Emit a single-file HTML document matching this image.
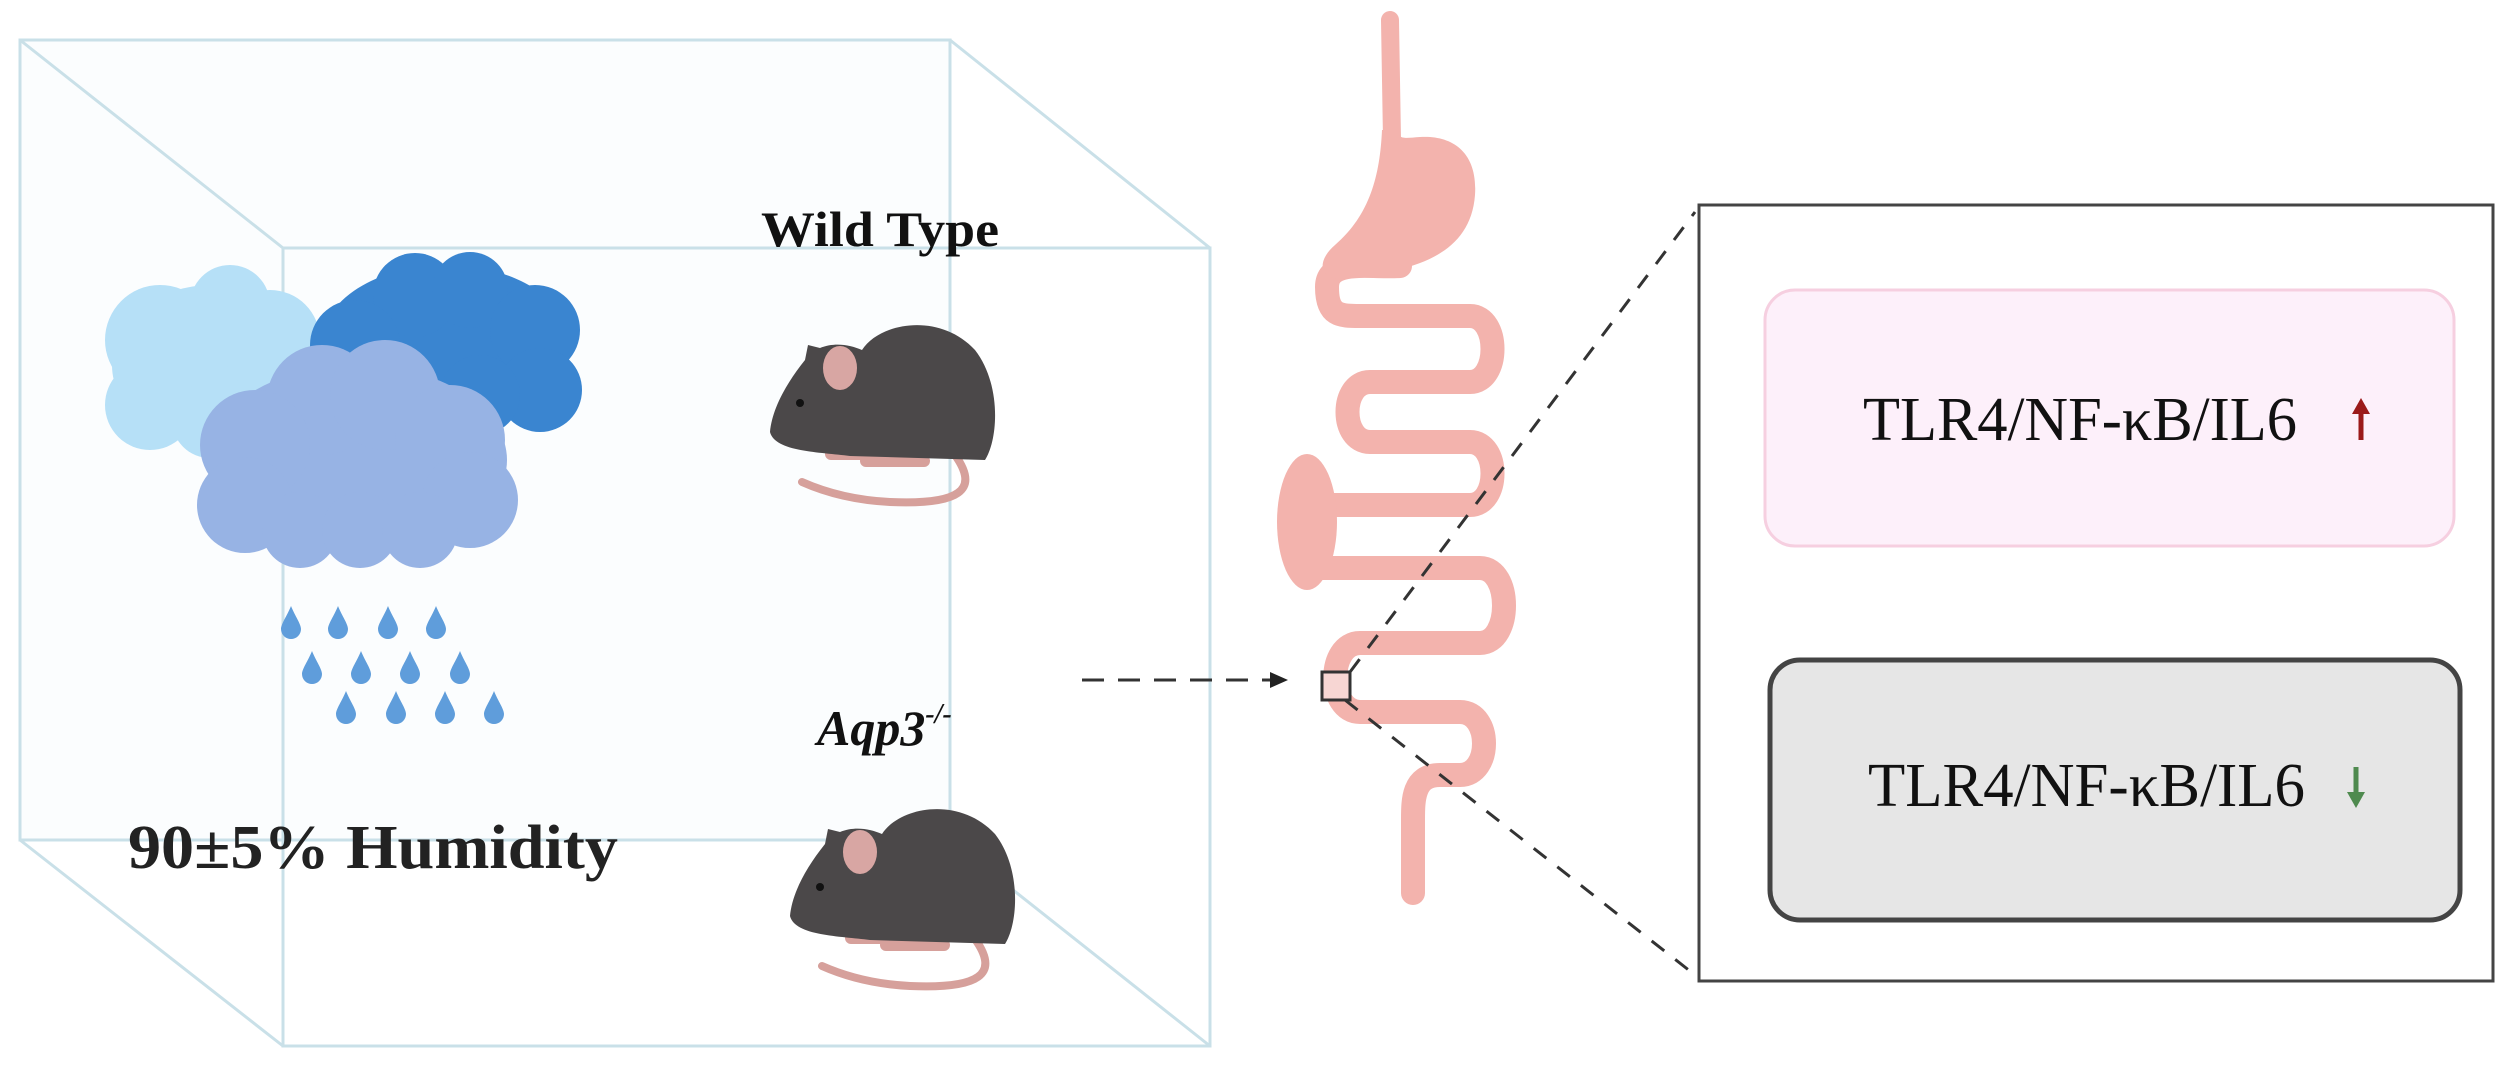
<!DOCTYPE html>
<html><head><meta charset="utf-8"><style>html,body{margin:0;padding:0;background:#fff}svg{display:block}</style></head>
<body>
<svg width="2500" height="1068" viewBox="0 0 2500 1068" xmlns="http://www.w3.org/2000/svg">
<rect width="2500" height="1068" fill="#fff"/>
<!-- cube -->
<g stroke="#c9e0e8" stroke-width="3" fill="none">
<rect x="20" y="40" width="930" height="800" fill="#fbfdfe"/>
<line x1="20" y1="40" x2="283" y2="248"/>
<line x1="950" y1="40" x2="1210" y2="248"/>
<line x1="20" y1="840" x2="283" y2="1046"/>
<line x1="950" y1="840" x2="1210" y2="1046"/>
<rect x="283" y="248" width="927" height="798"/>
</g>
<!-- clouds -->
<g fill="#b6e0f7">
<ellipse cx="212" cy="365" rx="100" ry="80"/>
<circle cx="160" cy="340" r="55"/><circle cx="230" cy="305" r="40"/><circle cx="270" cy="340" r="50"/>
<circle cx="150" cy="405" r="45"/><circle cx="210" cy="420" r="38"/><circle cx="275" cy="405" r="45"/>
</g>
<g fill="#3a85d0">
<ellipse cx="446" cy="345" rx="125" ry="80"/>
<circle cx="415" cy="295" r="42"/><circle cx="470" cy="290" r="38"/><circle cx="535" cy="330" r="45"/>
<circle cx="355" cy="345" r="45"/><circle cx="540" cy="390" r="42"/><circle cx="480" cy="395" r="40"/>
</g>
<g fill="#97b3e4">
<ellipse cx="357" cy="460" rx="150" ry="95"/>
<circle cx="322" cy="400" r="55"/><circle cx="385" cy="395" r="55"/><circle cx="450" cy="440" r="55"/>
<circle cx="255" cy="445" r="55"/><circle cx="470" cy="500" r="48"/><circle cx="245" cy="505" r="48"/>
<circle cx="300" cy="530" r="38"/><circle cx="360" cy="530" r="38"/><circle cx="420" cy="530" r="38"/>
</g>
<!-- drops -->
<defs><path id="d" d="M0,-16 C4,-6 10,2 10,7 A10,10 0 0 1 -10,7 C-10,2 -4,-6 0,-16Z" fill="#5f9ddb"/></defs>
<use href="#d" x="291" y="622"/><use href="#d" x="338" y="622"/><use href="#d" x="388" y="622"/><use href="#d" x="436" y="622"/>
<use href="#d" x="312" y="667"/><use href="#d" x="361" y="667"/><use href="#d" x="410" y="667"/><use href="#d" x="460" y="667"/>
<use href="#d" x="346" y="707"/><use href="#d" x="396" y="707"/><use href="#d" x="445" y="707"/><use href="#d" x="494" y="707"/>
<!-- text -->
<text x="880" y="246" font-family="Liberation Serif, serif" font-weight="bold" font-size="50" text-anchor="middle" fill="#111" textLength="238" lengthAdjust="spacingAndGlyphs">Wild Type</text>
<text x="817" y="745" font-family="Liberation Serif, serif" font-weight="bold" font-style="italic" font-size="50" fill="#111">Aqp3<tspan font-size="28" dy="-22">-/-</tspan></text>
<text x="128" y="868" font-family="Liberation Serif, serif" font-weight="bold" font-size="62" fill="#222" textLength="490" lengthAdjust="spacingAndGlyphs">90±5% Humidity</text>
<!-- mice -->
<defs>
<g id="m">
<path d="M215,165 C240,200 220,215 150,212 C110,210 80,200 62,192" stroke="#d6a09b" stroke-width="8" fill="none" stroke-linecap="round"/>
<rect x="85" y="158" width="60" height="12" rx="6" fill="#d6a09b"/>
<rect x="120" y="165" width="70" height="12" rx="6" fill="#d6a09b"/>
<path d="M30,142 C32,120 45,95 65,70 L68,55 L80,58 C95,52 110,55 122,60 C140,32 200,22 235,60 C262,95 258,150 245,170 L110,166 C80,162 35,162 30,142 Z" fill="#4b4849"/>
<ellipse cx="100" cy="78" rx="17" ry="22" fill="#d8a6a3"/>
<circle cx="60" cy="113" r="4" fill="#111"/>
</g>
</defs>
<use href="#m" x="740" y="290"/>
<use href="#m" x="760" y="774"/>
<!-- dashed arrow -->
<line x1="1082" y1="680" x2="1272" y2="680" stroke="#333" stroke-width="3" stroke-dasharray="22,14"/>
<path d="M1288,680 L1270,672 L1270,688Z" fill="#222"/>
<!-- intestine -->
<g fill="none" stroke="#f3b3ad" stroke-width="24" stroke-linecap="round" stroke-linejoin="round">
<path d="M1390,20 L1392,140" stroke-width="18"/>
<path d="M1400,266 C1370,268 1327,258 1327,287 C1327,316 1340,316 1360,316 L1470,316 C1500,316 1500,382 1470,382 L1370,382 C1340,382 1340,442 1370,442 L1470,442 C1500,442 1500,505 1470,505 L1320,505"/>
<path d="M1320,568 L1480,568 C1512,568 1512,643 1480,643 L1360,643 C1327,643 1327,712 1360,712 L1460,712 C1492,712 1492,775 1460,775 L1440,775 C1413,775 1413,800 1413,820 L1413,893"/>
</g>
<path d="M1382,130 C1380,175 1370,215 1335,245 C1315,262 1320,282 1345,278 C1400,272 1470,262 1475,195 C1478,150 1450,135 1420,137 C1405,138 1398,140 1398,130 Z" fill="#f3b3ad"/>
<ellipse cx="1307" cy="522" rx="30" ry="68" fill="#f3b3ad"/>
<rect x="1322" y="672" width="28" height="28" fill="#f7d6d3" stroke="#333" stroke-width="3"/>
<!-- zoom dashed lines -->
<line x1="1350" y1="672" x2="1695" y2="212" stroke="#333" stroke-width="3" stroke-dasharray="16,14"/>
<line x1="1345" y1="700" x2="1695" y2="975" stroke="#333" stroke-width="3" stroke-dasharray="16,14"/>
<!-- panel -->
<rect x="1699" y="205" width="794" height="776" fill="#fff" stroke="#444" stroke-width="3"/>
<rect x="1765" y="290" width="689" height="256" rx="30" fill="#fdf0fa" stroke="#f6cfe0" stroke-width="3"/>
<rect x="1770" y="660" width="690" height="260" rx="30" fill="#e6e6e6" stroke="#444" stroke-width="5"/>
<text x="1863" y="440" font-family="Liberation Serif, serif" font-size="62" fill="#111" textLength="434" lengthAdjust="spacingAndGlyphs">TLR4/NF-κB/IL6</text>
<text x="1868" y="806" font-family="Liberation Serif, serif" font-size="62" fill="#111" textLength="437" lengthAdjust="spacingAndGlyphs">TLR4/NF-κB/IL6</text>
<g stroke="#9b1a1a" stroke-width="5" fill="#9b1a1a"><line x1="2361" y1="410" x2="2361" y2="440"/><path d="M2361,398 L2352,414 L2370,414Z" stroke="none"/></g>
<g stroke="#4f8a4f" stroke-width="5" fill="#4f8a4f"><line x1="2356" y1="767" x2="2356" y2="795"/><path d="M2356,808 L2347,792 L2365,792Z" stroke="none"/></g>
</svg>
</body></html>
